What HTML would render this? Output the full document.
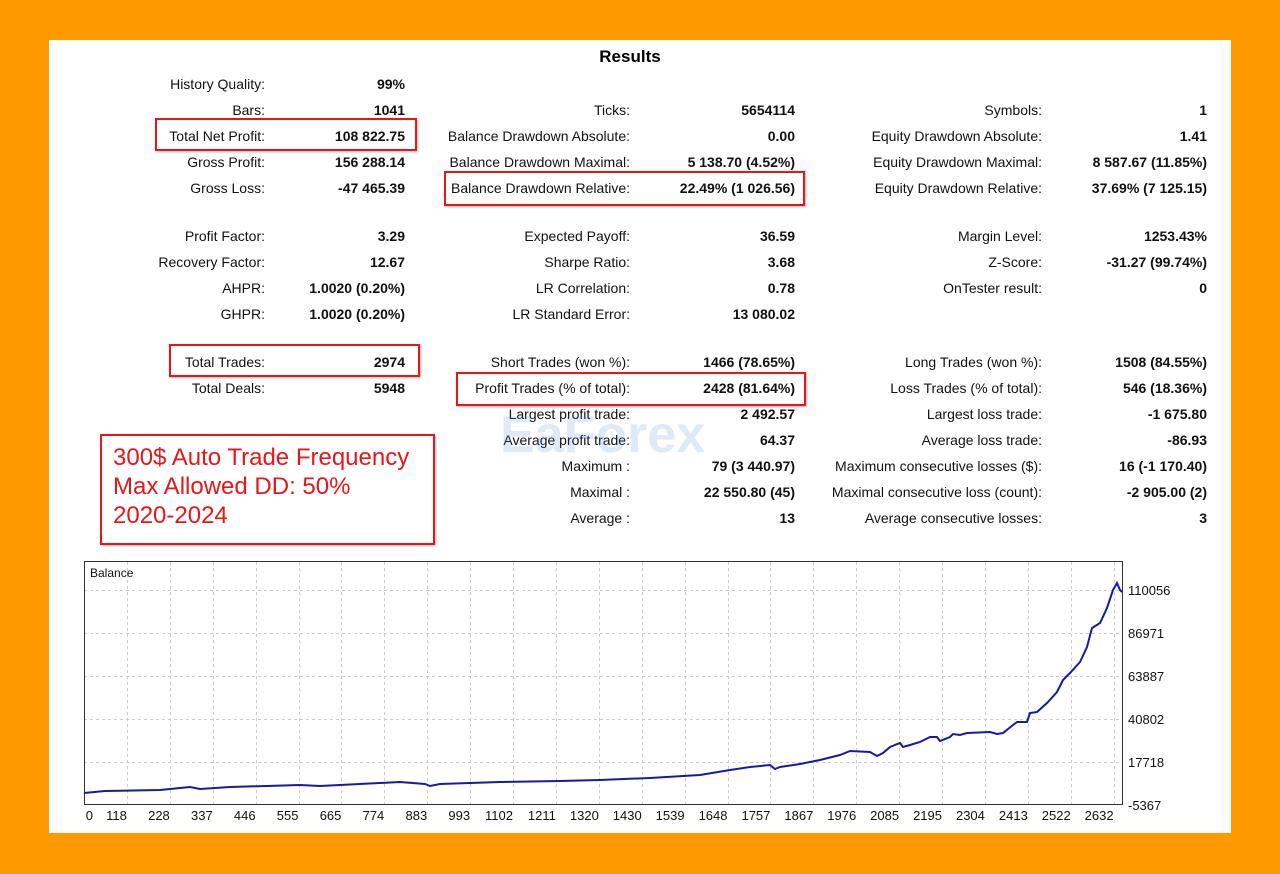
<!DOCTYPE html>
<html><head><meta charset="utf-8"><style>
body{margin:0;width:1280px;height:874px;background:#fe9a00;position:relative;overflow:hidden;font-family:"Liberation Sans",sans-serif;}
#p{position:absolute;left:49px;top:40px;width:1182px;height:793px;background:#fff;}
.l,.v{position:absolute;font-size:14px;color:#111;white-space:nowrap;line-height:16px;}
.l{text-align:right;}
.v{text-align:right;font-weight:bold;}
.b{position:absolute;border:2px solid #e5171b;box-shadow:1px 1px 2px rgba(0,0,0,.3);}
.t{position:absolute;color:#e5171b;font-size:24px;left:113px;white-space:nowrap;}
</style></head><body>
<div id="p"></div>
<div style="position:absolute;left:0;width:1260px;top:47px;text-align:center;font-weight:bold;font-size:17px;">Results</div>
<div id="s"></div>
<div class="b" style="left:155px;top:118px;width:258px;height:29px"></div>
<div class="b" style="left:444px;top:171px;width:357px;height:31px"></div>
<div class="b" style="left:169px;top:344px;width:247px;height:29px"></div>
<div class="b" style="left:456px;top:372px;width:346px;height:30px"></div>
<div class="b" style="left:100px;top:434px;width:331px;height:107px"></div>
<div class="t" style="top:444px">300$ Auto Trade Frequency</div>
<div class="t" style="top:473px">Max Allowed DD: 50%</div>
<div class="t" style="top:502px">2020-2024</div>
<div style="position:absolute;left:500px;top:405px;font-size:52px;font-weight:bold;color:rgba(80,140,220,.18);">EaForex</div>
<svg style="position:absolute;left:0;top:0" width="1280" height="874">
<g stroke="#ccc" stroke-dasharray="3,3" stroke-width="1">
<line x1="84" x2="1123" y1="590.5" y2="590.5"/><line x1="84" x2="1123" y1="633.5" y2="633.5"/><line x1="84" x2="1123" y1="676.5" y2="676.5"/><line x1="84" x2="1123" y1="719.5" y2="719.5"/><line x1="84" x2="1123" y1="762.5" y2="762.5"/>
</g>
<g id="vg" stroke="#ccc" stroke-dasharray="3,3"></g>
<rect x="84.5" y="561.5" width="1038" height="243" fill="none" stroke="#333"/>
<text x="90" y="577" font-family="Liberation Sans" font-size="12" fill="#111">Balance</text>
<polyline fill="none" stroke="#1a1aa0" stroke-width="2" points="84,793 105,791 160,790 180,788 190,787 200,789 230,787 300,785 320,786 400,782 425,784 430,786 440,784 500,782 560,781 600,780 650,778 700,775 730,770 750,767 770,765 775,769 780,767 800,764 820,760 840,755 850,751 870,752 877,756 883,753 890,747 900,743 903,747 910,745 920,742 930,737 937,737 940,741 950,737 953,734 960,735 967,733 990,732 997,734 1003,733 1013,725 1017,722 1027,722 1030,713 1037,712 1047,703 1057,692 1063,680 1070,673 1080,662 1087,647 1092,628 1100,623 1107,608 1113,590 1117,583 1120,590 1122,592"/>
<g font-family="Liberation Sans" font-size="13" fill="#111">
<text x="1128" y="595">110056</text><text x="1128" y="638">86971</text><text x="1128" y="681">63887</text><text x="1128" y="724">40802</text><text x="1128" y="767">17718</text><text x="1128" y="810">-5367</text>
</g>
<g font-family="Liberation Sans" font-size="13" fill="#111" text-anchor="end" id="xl"></g>
</svg>
<script>
var xs=[0,118,228,337,446,555,665,774,883,993,1102,1211,1320,1430,1539,1648,1757,1867,1976,2085,2195,2304,2413,2522,2632];
var xl=document.getElementById('xl'),vg=document.getElementById('vg'),ns='http://www.w3.org/2000/svg';
xs.forEach(function(v,i){var x=84+42.9*i;var t=document.createElementNS(ns,'text');t.setAttribute('x',i==0?93:x);t.setAttribute('y',820);t.textContent=v;xl.appendChild(t);
if(i>0){var l=document.createElementNS(ns,'line');l.setAttribute('x1',Math.round(x)+.5);l.setAttribute('x2',Math.round(x)+.5);l.setAttribute('y1',562);l.setAttribute('y2',804);vg.appendChild(l);}});
var rows=[
[84,"History Quality:","99%"],[110,"Bars:","1041","Ticks:","5654114","Symbols:","1"],
[136,"Total Net Profit:","108 822.75","Balance Drawdown Absolute:","0.00","Equity Drawdown Absolute:","1.41"],
[162,"Gross Profit:","156 288.14","Balance Drawdown Maximal:","5 138.70 (4.52%)","Equity Drawdown Maximal:","8 587.67 (11.85%)"],
[188,"Gross Loss:","-47 465.39","Balance Drawdown Relative:","22.49% (1 026.56)","Equity Drawdown Relative:","37.69% (7 125.15)"],
[236,"Profit Factor:","3.29","Expected Payoff:","36.59","Margin Level:","1253.43%"],
[262,"Recovery Factor:","12.67","Sharpe Ratio:","3.68","Z-Score:","-31.27 (99.74%)"],
[288,"AHPR:","1.0020 (0.20%)","LR Correlation:","0.78","OnTester result:","0"],
[314,"GHPR:","1.0020 (0.20%)","LR Standard Error:","13 080.02"],
[362,"Total Trades:","2974","Short Trades (won %):","1466 (78.65%)","Long Trades (won %):","1508 (84.55%)"],
[388,"Total Deals:","5948","Profit Trades (% of total):","2428 (81.64%)","Loss Trades (% of total):","546 (18.36%)"],
[414,null,null,"Largest profit trade:","2 492.57","Largest loss trade:","-1 675.80"],
[440,null,null,"Average profit trade:","64.37","Average loss trade:","-86.93"],
[466,null,null,"Maximum :","79 (3 440.97)","Maximum consecutive losses ($):","16 (-1 170.40)"],
[492,null,null,"Maximal :","22 550.80 (45)","Maximal consecutive loss (count):","-2 905.00 (2)"],
[518,null,null,"Average :","13","Average consecutive losses:","3"]];
var cols=[[265,405],[630,795],[1042,1207]],h='';
rows.forEach(function(r){for(var c=0;c<3;c++){if(r[1+2*c]==null)continue;var y=r[0]-8;
h+='<div class="l" style="right:'+(1280-cols[c][0])+'px;top:'+y+'px">'+r[1+2*c]+'</div>';
h+='<div class="v" style="right:'+(1280-cols[c][1])+'px;top:'+y+'px">'+r[2+2*c]+'</div>';}});
document.getElementById('s').innerHTML=h;
</script>
</body></html>
